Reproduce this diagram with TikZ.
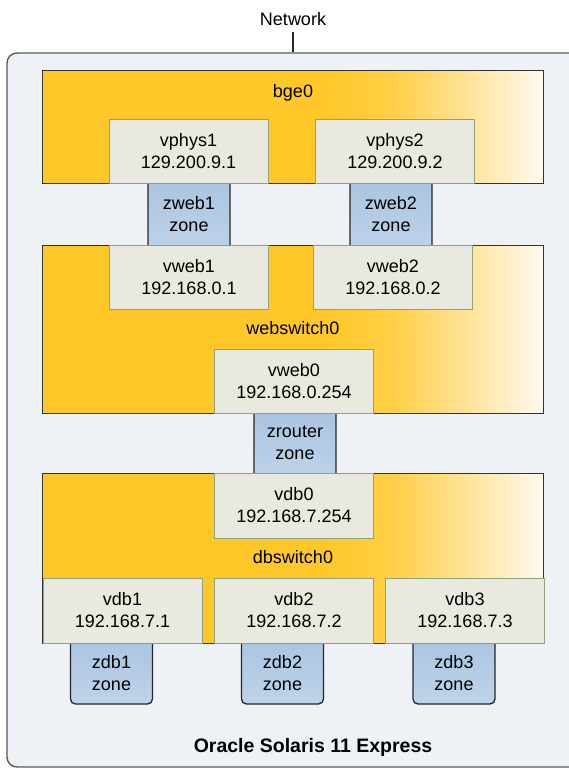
\documentclass[tikz,border=0pt]{standalone}
\usepackage{fontspec}
\setmainfont{Liberation Sans}
\usetikzlibrary{shadows}
\definecolor{swgold}{HTML}{FFC828}
\definecolor{swcream}{HTML}{FFF9EE}
\definecolor{vnicfill}{HTML}{EAE9E0}
\definecolor{vnicline}{HTML}{8CA37E}
\definecolor{zonetop}{HTML}{A8C3E0}
\definecolor{zonebottom}{HTML}{BFD3E9}
\definecolor{hostfill}{HTML}{EEF2F7}
\pgfdeclarehorizontalshading{switchfade}{100bp}{color(0bp)=(swgold); color(53bp)=(swgold); color(60bp)=(swgold!85!swcream); color(75bp)=(swcream); color(100bp)=(swcream)}
\begin{document}
\begin{tikzpicture}[x=1pt,y=-1pt,
  hostdecorate/.style={draw=black!65,line width=1.4pt,rounded corners=10pt,fill=hostfill,minimum width=572pt,minimum height=714pt,inner sep=0pt},
  switchdecorate/.style={draw=black!80,line width=0.9pt,shading=switchfade,minimum width=501pt,inner sep=0pt,drop shadow={opacity=0.25,shadow xshift=1pt,shadow yshift=-1pt}},
  vnicdecorate/.style={draw=vnicline,line width=0.8pt,fill=vnicfill,minimum width=159pt,minimum height=64pt,inner sep=0pt,align=center,font=\fontsize{18}{22}\selectfont},
  zonedecorate/.style={draw=black!85,line width=1.3pt,top color=zonetop,bottom color=zonebottom,rounded corners=5pt,minimum width=82pt,inner sep=0pt},
  labeldecorate/.style={font=\fontsize{18}{22}\selectfont,inner sep=0pt,align=center},
  linedecorate/.style={-,line width=1.3pt,draw=black!85}]
\useasboundingbox (0,0) rectangle (569,769);
% host and network
\node (host) at (293,410) [hostdecorate] {};
\node (net) at (293,19) [labeldecorate] {Network};
\draw[linedecorate,shorten <=6pt] (net.south) -- (host.north);
% zones
\node (zweb1) at (189,214) [zonedecorate,minimum height=78pt] {};
\node (zweb2) at (391,214) [zonedecorate,minimum height=78pt] {};
\node (zrouter) at (295,443) [zonedecorate,minimum height=76pt] {};
\node (zdb1) at (111.5,668.5) [zonedecorate,minimum height=71pt] {};
\node (zdb2) at (282.5,668.5) [zonedecorate,minimum height=71pt] {};
\node (zdb3) at (454,668.5) [zonedecorate,minimum height=71pt] {};
% switches
\node (bge) at (292.5,126.5) [switchdecorate,minimum height=113pt] {};
\node at (293,93) [labeldecorate] {bge0};
\node (websw) at (292.5,329) [switchdecorate,minimum height=168pt] {};
\node at (293,328) [labeldecorate] {webswitch0};
\node (dbsw) at (292.5,558) [switchdecorate,minimum height=170pt] {};
\node at (293,557) [labeldecorate] {dbswitch0};
% vnics
\node (vphys1) at (188.5,151) [vnicdecorate] {vphys1\\129.200.9.1};
\node (vphys2) at (395,151) [vnicdecorate] {vphys2\\129.200.9.2};
\node (vweb1) at (189,277) [vnicdecorate] {vweb1\\192.168.0.1};
\node (vweb2) at (393,277) [vnicdecorate] {vweb2\\192.168.0.2};
\node (vweb0) at (294,381) [vnicdecorate] {vweb0\\192.168.0.254};
\node (vdb0) at (294,505.5) [vnicdecorate,minimum height=65pt] {vdb0\\192.168.7.254};
\node (vdb1) at (122.5,610.5) [vnicdecorate,minimum height=65pt] {vdb1\\192.168.7.1};
\node (vdb2) at (294,610.5) [vnicdecorate,minimum height=65pt] {vdb2\\192.168.7.2};
\node (vdb3) at (465,610.5) [vnicdecorate,minimum height=65pt] {vdb3\\192.168.7.3};
% zone names
\node at (zweb1) [labeldecorate] {zweb1\\zone};
\node at (zweb2) [labeldecorate] {zweb2\\zone};
\node at (zrouter) [labeldecorate] {zrouter\\zone};
\node at ([yshift=-5pt]zdb1.center) [labeldecorate] {zdb1\\zone};
\node at ([yshift=-5pt]zdb2.center) [labeldecorate] {zdb2\\zone};
\node at ([yshift=-5pt]zdb3.center) [labeldecorate] {zdb3\\zone};
% title
\node (title) at (313,747) [font=\bfseries\fontsize{19.5}{23}\selectfont,inner sep=0pt] {Oracle Solaris 11 Express};
\end{tikzpicture}
\end{document}
